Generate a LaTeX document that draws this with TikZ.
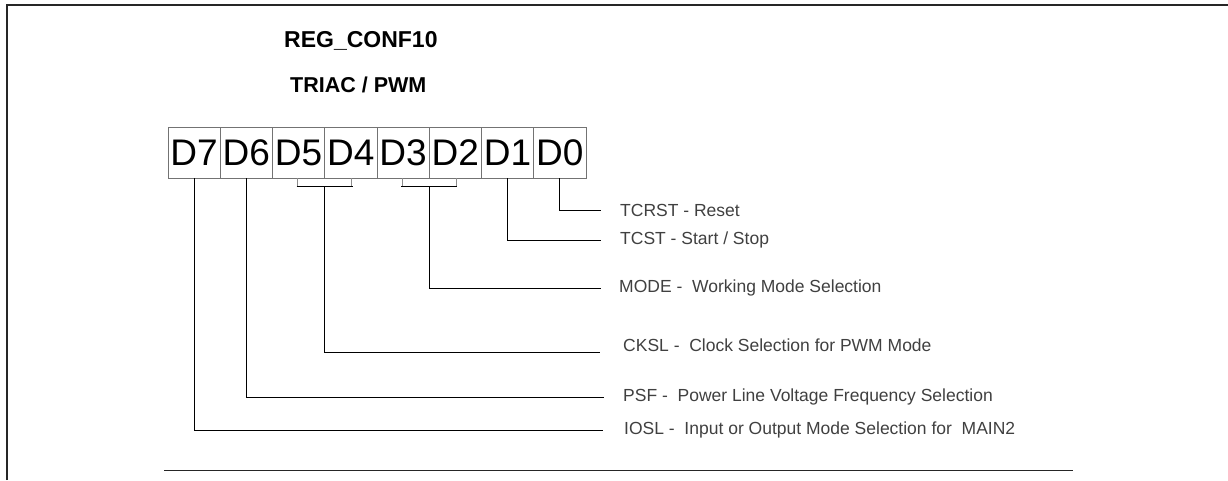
\documentclass[tikz,border=0pt]{standalone}
\usepackage{fontspec}
\setmainfont{Liberation Sans}
\usetikzlibrary{positioning}

\tikzset{
  bitcell/.style={draw=black!55, line width=0.8pt, minimum width=52.25pt, minimum height=51pt,
    inner sep=0pt, outer sep=0pt, font=\fontsize{37}{37}\selectfont},
  bitlabel/.style={anchor=west, inner sep=0pt, text=black!75, font=\fontsize{17.5}{17.5}\selectfont},
  titletext/.style={anchor=west, inner sep=0pt, font=\fontsize{21.5}{21.5}\selectfont\bfseries},
  wire/.style={line width=1pt},
  tick/.style={line width=0.8pt, black!45},
}

\begin{document}
\begin{tikzpicture}[x=1pt, y=-1pt]
\useasboundingbox (0,0) rectangle (1228,480);

% Cadre
\draw[line width=2.5pt, black!85] (7,480) -- (7,5) -- (1228,5);

% Titre
\node[titletext, font=\fontsize{23}{23}\selectfont\bfseries] (regname) at (284,41) {REG\_CONF10};
\node[titletext] (regmode) at (290,84.5) {TRIAC / PWM};

% Registre
\node[bitcell] (d7) at (194.1,152.5) {D7};
\node[bitcell, right=0pt of d7] (d6) {D6};
\node[bitcell, right=0pt of d6] (d5) {D5};
\node[bitcell, right=0pt of d5] (d4) {D4};
\node[bitcell, right=0pt of d4] (d3) {D3};
\node[bitcell, right=0pt of d3] (d2) {D2};
\node[bitcell, right=0pt of d2] (d1) {D1};
\node[bitcell, right=0pt of d1] (d0) {D0};

% Champs
\node[bitlabel] (tcrst) at (620,210) {TCRST - Reset};
\node[bitlabel] (tcst) at (620,240) {TCST - Start / Stop};
\node[bitlabel] (mode) at (619,288) {MODE -\ \ Working Mode Selection};
\node[bitlabel] (cksl) at (623,345) {CKSL -\ \ Clock Selection for PWM Mode};
\node[bitlabel] (psf) at (623,397) {PSF -\ \ Power Line Voltage Frequency Selection};
\node[bitlabel] (iosl) at (624,430) {IOSL -\ \ Input or Output Mode Selection for\ \ MAIN2};

% Groupes de bits
\coordinate (ckbar) at ([yshift=-8pt]d5.south east);
\coordinate (mdbar) at ([yshift=-8pt]d3.south east);
\draw[tick] ([xshift=-27pt]d5.south east) -- ([xshift=-27pt]ckbar);
\draw[tick] ([xshift=27pt]d5.south east) -- ([xshift=27pt]ckbar);
\draw[tick] ([xshift=-27pt]d3.south east) -- ([xshift=-27pt]mdbar);
\draw[tick] ([xshift=27pt]d3.south east) -- ([xshift=27pt]mdbar);
\draw[wire] ([xshift=-28pt]ckbar) -- ([xshift=28pt]ckbar);
\draw[wire] ([xshift=-28pt]mdbar) -- ([xshift=28pt]mdbar);

% Liaisons
\draw[wire] (d0.south) |- ([xshift=-19pt]tcrst.west);
\draw[wire] (d1.south) |- ([xshift=-19pt]tcst.west);
\draw[wire] (mdbar) |- ([xshift=-18pt]mode.west);
\draw[wire] (ckbar) |- ([xshift=-23pt,yshift=-1pt]cksl.base west);
\draw[wire] (d6.south) |- ([xshift=-19pt]psf.west);
\draw[wire] (d7.south) |- ([xshift=-21pt]iosl.west);

% Trait bas
\draw[line width=1pt, black!85] (164,470) -- (1073,470);

\end{tikzpicture}
\end{document}
